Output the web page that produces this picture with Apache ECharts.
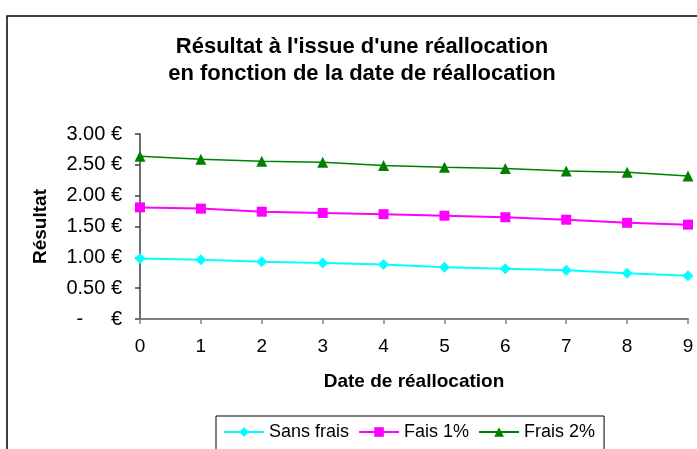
<!DOCTYPE html>
<html>
<head>
<meta charset="utf-8">
<script src="https://cdn.jsdelivr.net/npm/echarts@6/dist/echarts.min.js"></script>
<style>
  html, body { margin: 0; padding: 0; background: #fff; }
  #chart { width: 697px; height: 449px; }
</style>
</head>
<body>
<div id="chart"></div>
<script>
const dates = ['0', '1', '2', '3', '4', '5', '6', '7', '8', '9'];
const sansFrais = [0.98, 0.96, 0.93, 0.91, 0.885, 0.84, 0.815, 0.79, 0.74, 0.70];
const frais1 = [1.81, 1.79, 1.74, 1.72, 1.70, 1.675, 1.65, 1.61, 1.56, 1.53];
const frais2 = [2.64, 2.59, 2.56, 2.54, 2.49, 2.46, 2.44, 2.40, 2.38, 2.32];

const font = 'Arial, "Liberation Sans", sans-serif';

let myChart = echarts.init(document.getElementById('chart'));

let option = {
  backgroundColor: '#fff',
  animation: false,
  textStyle: { fontFamily: font },
  graphic: [
    {
      type: 'rect',
      shape: { x: 7, y: 16, width: 720, height: 460 },
      style: { fill: 'none', stroke: '#000', lineWidth: 1.5 },
      z: 0
    }
  ],
  title: {
    text: "Résultat à l'issue d'une réallocation\nen fonction de la date de réallocation",
    left: 357,
    top: 28,
    textAlign: 'center',
    textStyle: { fontSize: 22, fontWeight: 'bold', color: '#000', lineHeight: 27, fontFamily: font }
  },
  grid: { left: 140, right: 9, top: 134, bottom: 130 },
  legend: {
    left: 216,
    top: 416,
    borderColor: '#000',
    borderWidth: 1,
    padding: [7, 9, 12, 7],
    itemGap: 9,
    itemWidth: 40,
    itemHeight: 12,
    textStyle: { fontSize: 18, color: '#000', fontFamily: font },
    data: ['Sans frais', 'Fais 1%', 'Frais 2%']
  },
  xAxis: {
    type: 'category',
    data: dates,
    boundaryGap: false,
    name: 'Date de réallocation',
    nameLocation: 'middle',
    nameGap: 53,
    nameTextStyle: { fontSize: 19, fontWeight: 'bold', color: '#000' },
    axisLine: { lineStyle: { color: '#808080', width: 2 } },
    axisTick: { length: 5, lineStyle: { color: '#808080', width: 1.5 } },
    axisLabel: { fontSize: 19, color: '#000', margin: 18 }
  },
  yAxis: {
    type: 'value',
    min: 0,
    max: 3,
    interval: 0.5,
    name: 'Résultat',
    nameLocation: 'middle',
    nameGap: 90,
    nameRotate: 90,
    nameTextStyle: { fontSize: 19, fontWeight: 'bold', color: '#000' },
    splitLine: { show: false },
    axisLine: { show: true, lineStyle: { color: '#404040', width: 1.5 } },
    axisTick: { show: true, length: 5, lineStyle: { color: '#404040', width: 1.5 } },
    axisLabel: {
      fontSize: 20,
      color: '#000',
      margin: 18,
      formatter: function (v) {
        return v === 0 ? '-     €' : v.toFixed(2) + ' €';
      }
    }
  },
  series: [
    {
      name: 'Sans frais',
      type: 'line',
      data: sansFrais,
      symbol: 'diamond',
      symbolSize: 11,
      color: '#00ffff',
      lineStyle: { width: 2 }
    },
    {
      name: 'Fais 1%',
      type: 'line',
      data: frais1,
      symbol: 'rect',
      symbolSize: 10,
      color: '#ff00ff',
      lineStyle: { width: 2 }
    },
    {
      name: 'Frais 2%',
      type: 'line',
      data: frais2,
      symbol: 'triangle',
      symbolSize: 11,
      color: '#008000',
      lineStyle: { width: 1.5 }
    }
  ]
};

option && myChart.setOption(option);
</script>
</body>
</html>
